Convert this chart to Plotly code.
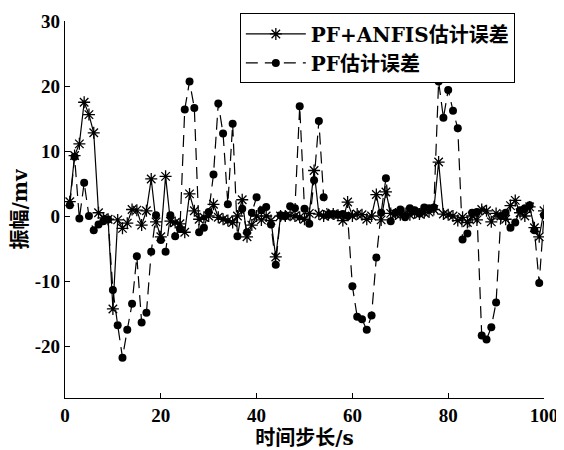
import plotly.graph_objects as go

steps = list(range(1, 101))

pf_anfis = [2.2, 9.3, 11.1, 17.5, 15.6, 12.8, 0.5, -0.3, -0.5, -14.3,
            -0.6, -1.9, -1.1, 1.0, 0.9, -1.4, 0.8, 5.7, -0.9, -3.2,
            6.1, -0.8, -1.0, -1.2, -2.5, 3.4, 0.8, -0.5, -0.2, 0.0,
            1.8, -0.2, -0.5, -0.7, -1.0, 0.0, 2.5, -3.2, -1.4, 0.0,
            -0.6, 0.0, -0.7, -6.3, 0.0, 0.0, 0.1, 0.0, -0.2, -0.5,
            0.4, 7.0, 0.3, 0.0, 0.2, 0.3, 0.1, -0.7, 2.15, 0.0,
            0.3, 0.2, -0.5, 0.0, 3.3, -0.6, 3.7, 0.4, 0.3, 0.2,
            0.4, 0.2, 0.5, 0.3, 0.5, 0.6, 1.0, 8.3, 0.3, 0.2,
            0.0, -0.7, -0.2, -1.0, 0.0, -0.6, 1.0, 0.8, -0.9, 0.4,
            0.0, -0.5, 1.6, 2.4, 0.5, 0.0, 1.4, -1.8, -3.2, 0.8]

pf = [1.65, 9.1, -0.4, 5.1, 0.0, -2.2, -1.3, -0.8, -0.55, -11.4,
      -16.8, -21.8, -17.5, -13.5, -6.2, -16.4, -14.9, -5.5, 0.1, -3.7,
      -5.5, 0.1, -3.1, -2.0, 16.4, 20.7, 16.6, -2.5, -1.8, 0.6,
      6.4, 17.3, 12.7, 1.8, 14.2, -3.1, 1.1, -2.5, 0.5, 2.9,
      0.9, 1.4, -1.3, -7.5, 0.1, 0.0, 1.5, 1.2, 16.9, 1.1,
      -1.2, 5.5, 14.6, 2.9, 0.2, 0.3, 0.2, 0.3, 0.0, -10.8,
      -15.5, -15.9, -17.5, -15.3, -6.4, 0.5, 5.8, -0.8, 0.5, 1.0,
      -0.2, 1.2, 0.9, 0.4, 1.3, 1.2, 1.3, 20.7, 15.1, 19.4,
      16.2, 13.5, -3.6, -2.7, 0.5, 0.6, -18.4, -19.0, -17.1, -13.3,
      0.0, 0.5, -1.8, -1.0, 0.9, 1.2, 1.65, -2.2, -10.3, 0.1]

x_ticks = [0, 20, 40, 60, 80, 100]
y_ticks = [-20, -10, 0, 10, 20, 30]

FONT = "Liberation Serif, Noto Sans CJK SC, serif"
LEG_FONT = "DejaVu Serif, Noto Sans CJK SC, serif"

fig = go.Figure()
fig.add_trace(go.Scatter(
    x=steps, y=pf_anfis, mode="lines+markers", name="<b>PF+ANFIS估计误差</b>",
    line=dict(color="black", width=1.2),
    marker=dict(symbol="asterisk-open", size=10, color="black",
                line=dict(color="black", width=1.3)),
))
fig.add_trace(go.Scatter(
    x=steps, y=pf, mode="lines+markers", name="<b>PF估计误差</b>",
    line=dict(color="black", width=1.2, dash="12px,7px"),
    marker=dict(symbol="circle", size=8, color="black"),
))

fig.update_layout(
    width=556, height=442,
    margin=dict(l=57, r=20, t=13, b=52, autoexpand=False),
    plot_bgcolor="white", paper_bgcolor="white",
    font=dict(family=FONT, color="black", size=19),
    showlegend=True,
    legend=dict(x=0.365, y=1.02, xanchor="left", yanchor="top",
                bordercolor="black", borderwidth=1, bgcolor="white",
                font=dict(size=20, family=LEG_FONT), tracegroupgap=0,
                itemwidth=60),
    xaxis=dict(range=[0, 100], tickvals=x_ticks,
               ticktext=[f"<b>{v}</b>" for v in x_ticks],
               ticks="inside", ticklen=5, tickcolor="black",
               showline=True, linecolor="black", linewidth=1.2,
               showgrid=False, zeroline=False, automargin=False,
               title=dict(text="<b>时间步长/s</b>", standoff=0,
                          font=dict(size=20, family=LEG_FONT))),
    yaxis=dict(range=[-28, 30], tickvals=y_ticks,
               ticktext=[f"<b>{v}</b>" for v in y_ticks],
               ticks="inside", ticklen=5, tickcolor="black",
               showline=True, linecolor="black", linewidth=1.2,
               showgrid=False, zeroline=False, automargin=False,
               title=dict(text="<b>振幅/mv</b>", standoff=4,
                          font=dict(size=20, family=LEG_FONT))),
)

fig.write_html("out.html")
